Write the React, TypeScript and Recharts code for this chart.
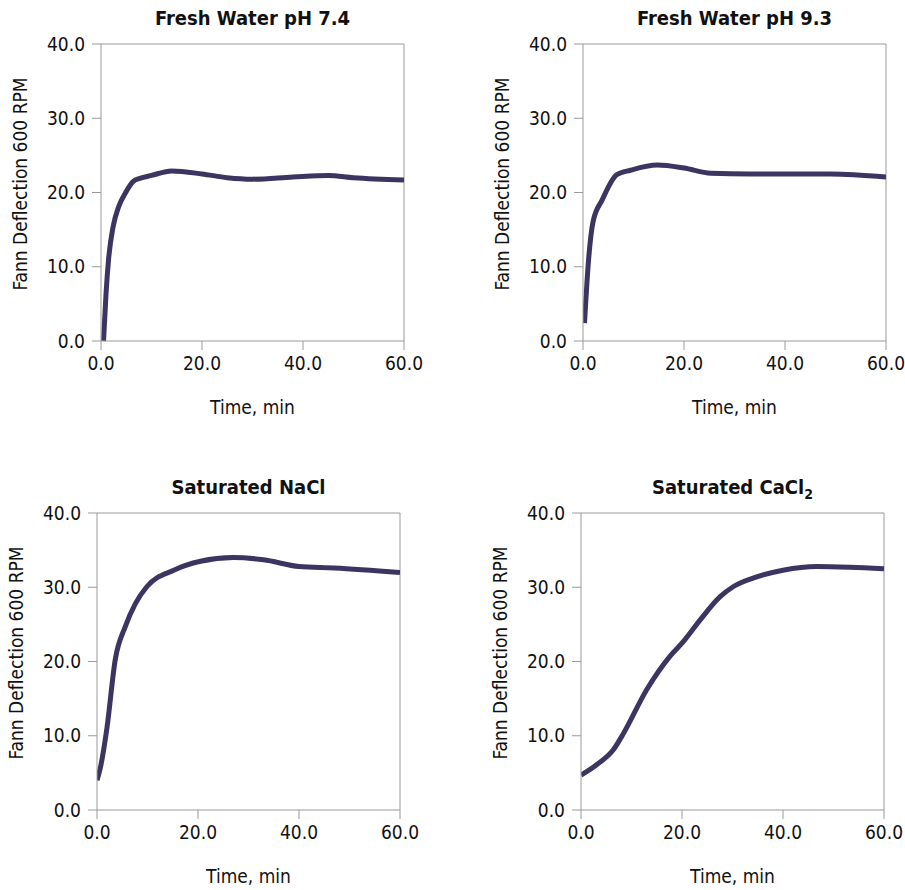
import { LineChart, Line, XAxis, YAxis, ReferenceLine } from "recharts";

// time (min) and Fann 600 RPM deflection
const timeFresh74 = [0.5, 1, 1.5, 2.4, 3.5, 4.8, 6.4, 7.7, 10, 14, 20, 25, 30, 38, 45, 50, 60];
const deflFresh74 = [0, 6.4, 11, 15.4, 18.1, 19.9, 21.5, 21.9, 22.3, 22.9, 22.5, 22.0, 21.8, 22.1, 22.3, 22.0, 21.7];

const timeFresh93 = [0.3, 1.1, 2, 3.8, 6.7, 9.4, 14.7, 20, 25.3, 33, 41, 49, 60];
const deflFresh93 = [2.4, 10.9, 16.1, 19.0, 22.4, 23.0, 23.7, 23.3, 22.6, 22.5, 22.5, 22.5, 22.1];

const timeNaCl = [0, 0.7, 2, 3.6, 5.6, 7.6, 9.9, 15.2, 20.5, 27, 33, 40, 47, 60];
const deflNaCl = [4.0, 5.8, 11.2, 20.2, 24.7, 27.8, 30.1, 32.3, 33.5, 34.0, 33.7, 32.8, 32.6, 32.0];

const timeCaCl2 = [0, 3.1, 6.4, 8.4, 13, 17.6, 20.3, 23.6, 27.5, 30.2, 34.8, 40, 46.7, 53.3, 60];
const deflCaCl2 = [4.7, 6.1, 8.1, 10.3, 16.2, 20.7, 22.7, 25.6, 28.7, 30.1, 31.4, 32.3, 32.8, 32.7, 32.5];

const xTicks = [0, 20, 40, 60];
const yTicks = [0, 10, 20, 30, 40];

const FONT = "'Liberation Sans Narrow', 'DejaVu Sans Condensed', 'Arial Narrow', sans-serif";
const AXIS = "#9a9a9a";
const LINE = "#3d3461";

const zip = (t: number[], v: number[]) => t.map((x, i) => ({ t: x, v: v[i] }));

function Panel({
  left,
  top,
  title,
  sub,
  data,
}: {
  left: number;
  top: number;
  title: string;
  sub?: string;
  data: { t: number; v: number }[];
}) {
  return (
    <div style={{ position: "absolute", left, top }}>
      <LineChart width={450} height={430} data={data} margin={{ top: 44, right: 46, bottom: 0, left: 0 }}>
        <XAxis
          dataKey="t"
          type="number"
          domain={[0, 60]}
          ticks={xTicks}
          tickFormatter={(v: number) => v.toFixed(1)}
          height={89}
          tickSize={9}
          tickMargin={7}
          stroke={AXIS}
          tick={{ fill: "#111", fontSize: 19, fontFamily: FONT }}
          allowDataOverflow
        />
        <YAxis
          type="number"
          domain={[0, 40]}
          ticks={yTicks}
          tickFormatter={(v: number) => v.toFixed(1)}
          width={101}
          tickSize={9}
          tickMargin={7}
          stroke={AXIS}
          tick={{ fill: "#111", fontSize: 19, fontFamily: FONT }}
        />
        <ReferenceLine y={40} stroke={AXIS} strokeWidth={1} />
        <ReferenceLine x={60} stroke={AXIS} strokeWidth={1} />
        <Line
          dataKey="v"
          type="monotone"
          stroke={LINE}
          strokeWidth={5}
          dot={false}
          isAnimationActive={false}
        />
        <text x={252.5} y={25} textAnchor="middle" fontFamily={FONT} fontWeight="bold" fontSize={20} fill="#111">
          {title}
          {sub && (
            <tspan dy={5} fontSize={14}>
              {sub}
            </tspan>
          )}
        </text>
        <text x={252.5} y={414} textAnchor="middle" fontFamily={FONT} fontSize={19} fill="#111">
          Time, min
        </text>
        <text
          x={20}
          y={184}
          textAnchor="middle"
          dominantBaseline="central"
          transform="rotate(-90 20 184)"
          fontFamily={FONT}
          fontSize={19}
          fill="#111"
        >
          Fann Deflection 600 RPM
        </text>
      </LineChart>
    </div>
  );
}

export default function App() {
  return (
    <div style={{ position: "absolute", left: 0, top: 0, width: 905, height: 890, background: "#fff" }}>
      <Panel left={0} top={0} title="Fresh Water pH 7.4" data={zip(timeFresh74, deflFresh74)} />
      <Panel left={482} top={0} title="Fresh Water pH 9.3" data={zip(timeFresh93, deflFresh93)} />
      <Panel left={-4} top={469} title="Saturated NaCl" data={zip(timeNaCl, deflNaCl)} />
      <Panel left={480} top={469} title="Saturated CaCl" sub="2" data={zip(timeCaCl2, deflCaCl2)} />
    </div>
  );
}
